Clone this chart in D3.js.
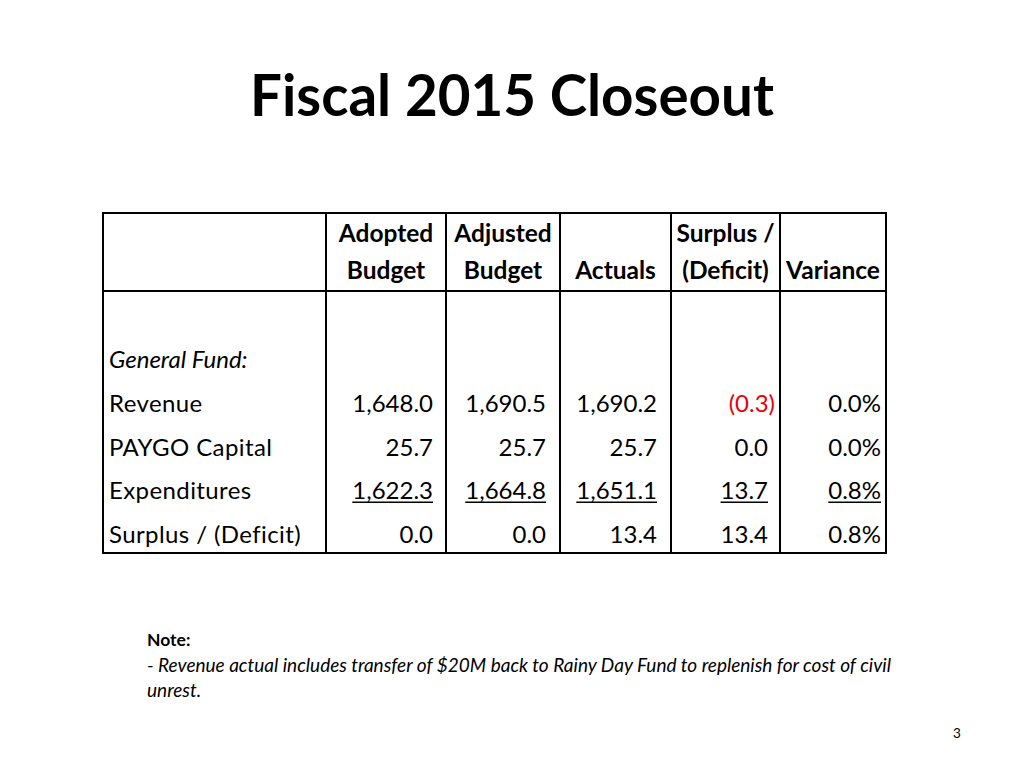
<!DOCTYPE html>
<html>
<head>
<meta charset="utf-8">
<script src="https://cdn.jsdelivr.net/npm/d3@7"></script>
<style>
  html, body { margin: 0; padding: 0; background: #fff; }
  svg { display: block; }
  text { font-family: Lato, "Open Sans", sans-serif; fill: #000; }
</style>
</head>
<body>
<svg id="chart" width="1024" height="768"></svg>
<script>
// ---------- data ----------
const title = "Fiscal 2015 Closeout";
const columnHeaders = [["Adopted", "Budget"], ["Adjusted", "Budget"], ["", "Actuals"], ["Surplus /", "(Deficit)"], ["", "Variance"]];
const sectionLabel = "General Fund:";
const rowLabels = ["Revenue", "PAYGO Capital", "Expenditures", "Surplus / (Deficit)"];
const adoptedBudget = [1648.0, 25.7, 1622.3, 0.0];
const adjustedBudget = [1690.5, 25.7, 1664.8, 0.0];
const actuals = [1690.2, 25.7, 1651.1, 13.4];
const surplusDeficit = [-0.3, 0.0, 13.7, 13.4];
const variancePct = [0.0, 0.0, 0.8, 0.8];
const underlinedRow = "Expenditures";
const noteTitle = "Note:";
const noteLines = ["- Revenue actual includes transfer of $20M back to Rainy Day Fund to replenish for cost of civil", "unrest."];
const pageNumber = "3";

// ---------- layout ----------
const svg = d3.select("#chart");
const tableLeft = 103, tableRight = 886, tableTop = 213, tableBottom = 553, headerBottom = 291;
const colEdges = [tableLeft, 326, 446, 560, 671, 780, tableRight];
const bodyFont = 24, headerFont = 24.5;

// title
svg.append("text")
  .attr("x", 512).attr("y", 116)
  .attr("text-anchor", "middle")
  .style("font-weight", "700")
  .style("font-size", "56.5px")
  .text(title);

const colIndex = d3.range(columnHeaders.length);
const colLeft = d3.scaleOrdinal().domain(colIndex).range(colEdges.slice(1, 6));
const colRight = d3.scaleOrdinal().domain(colIndex).range(colEdges.slice(2, 7));

// rows
const rowKeys = [sectionLabel].concat(rowLabels);
const y = d3.scalePoint().domain(rowKeys).range([368, 543]);

// table borders
const g = svg.append("g");
g.append("rect")
  .attr("x", tableLeft).attr("y", tableTop)
  .attr("width", tableRight - tableLeft).attr("height", tableBottom - tableTop)
  .attr("fill", "none").attr("stroke", "#000").attr("stroke-width", 2);
g.append("line")
  .attr("x1", tableLeft).attr("x2", tableRight)
  .attr("y1", headerBottom).attr("y2", headerBottom)
  .attr("stroke", "#000").attr("stroke-width", 2);
g.selectAll("line.col")
  .data(colEdges.slice(1, 6))
  .join("line").attr("class", "col")
  .attr("x1", d => d).attr("x2", d => d)
  .attr("y1", tableTop).attr("y2", tableBottom)
  .attr("stroke", "#000").attr("stroke-width", 2);

// headers
const hdr = g.selectAll("g.hdr").data(columnHeaders).join("g").attr("class", "hdr");
hdr.each(function (lines, i) {
  const cx = (colLeft(i) + colRight(i)) / 2;
  d3.select(this).selectAll("text").data(lines).join("text")
    .attr("x", cx)
    .attr("y", (d, j) => j === 0 ? 242 : 279)
    .attr("text-anchor", "middle")
    .style("font-weight", "700")
    .style("font-size", headerFont + "px")
    .text(d => d);
});

// row labels
g.append("text")
  .attr("x", 109).attr("y", y(sectionLabel))
  .style("font-style", "italic")
  .style("font-size", bodyFont + "px")
  .text(sectionLabel);
g.selectAll("text.rl").data(rowLabels).join("text").attr("class", "rl")
  .attr("x", 109).attr("y", d => y(d))
  .style("font-size", bodyFont + "px")
  .style("letter-spacing", "0.4px")
  .text(d => d);

// values
const fmt = d3.format(",.1f");
const columns = [
  { values: adoptedBudget, kind: "num" },
  { values: adjustedBudget, kind: "num" },
  { values: actuals, kind: "num" },
  { values: surplusDeficit, kind: "acct" },
  { values: variancePct, kind: "pct" }
];
const pad = [13, 14, 14, 5, 5];
columns.forEach((col, ci) => {
  const right = colRight(ci) - pad[ci];
  col.values.forEach((v, ri) => {
    let label, color = "#000", xr = right;
    if (col.kind === "pct") label = fmt(v) + "%";
    else if (col.kind === "acct") {
      if (v < 0) { label = "(" + fmt(-v) + ")"; color = "#e8000b"; }
      else { label = fmt(v); xr = right - 7; }
    } else label = fmt(v);
    const t = g.append("text")
      .attr("x", xr).attr("y", y(rowLabels[ri]))
      .attr("text-anchor", "end")
      .style("font-size", bodyFont + "px")
      .style("fill", color)
      .text(label);
    if (rowLabels[ri] === underlinedRow) {
      const w = t.node().getComputedTextLength();
      g.append("line")
        .attr("x1", xr - w).attr("x2", xr)
        .attr("y1", y(rowLabels[ri]) + 3).attr("y2", y(rowLabels[ri]) + 3)
        .attr("stroke", color).attr("stroke-width", 1.3);
    }
  });
});

// note
svg.append("text")
  .attr("x", 147).attr("y", 646)
  .style("font-weight", "700").style("font-size", "17.5px")
  .text(noteTitle);
svg.selectAll("text.note").data(noteLines).join("text").attr("class", "note")
  .attr("x", 147).attr("y", (d, i) => 672 + i * 25)
  .style("font-style", "italic").style("font-size", "19px")
  .text(d => d);

// page number
svg.append("text")
  .attr("x", 957).attr("y", 738)
  .attr("text-anchor", "middle")
  .style("font-size", "13.5px")
  .text(pageNumber);
</script>
</body>
</html>
